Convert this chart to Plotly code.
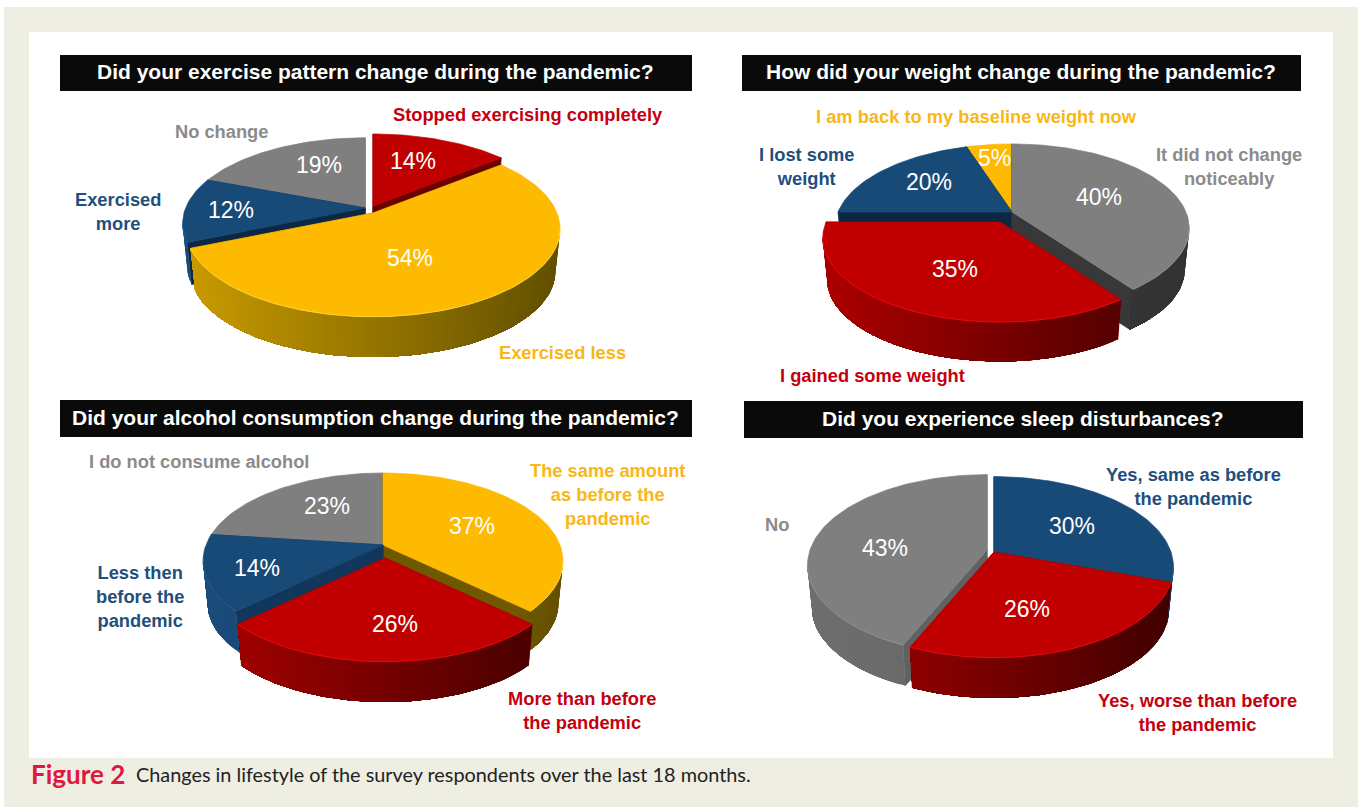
import numpy as np
import plotly.graph_objects as go

# Survey answers, clockwise from twelve o'clock
exercise_labels = ["Stopped exercising completely", "Exercised less", "Exercised more", "No change"]
exercise_values = [14, 54, 12, 19]
weight_labels = ["It did not change noticeably", "I gained some weight", "I lost some weight", "I am back to my baseline weight now"]
weight_values = [40, 35, 20, 5]
alcohol_labels = ["The same amount as before the pandemic", "More than before the pandemic", "Less then before the pandemic", "I do not consume alcohol"]
alcohol_values = [37, 26, 14, 23]
sleep_labels = ["Yes, same as before the pandemic", "Yes, worse than before the pandemic", "No"]
sleep_values = [30, 26, 43]

titles = [
    "Did your exercise pattern change during the pandemic?",
    "How did your weight change during the pandemic?",
    "Did your alcohol consumption change during the pandemic?",
    "Did you experience sleep disturbances?",
]

# Palette: top face, inner cut face, rim gradient left and right, highlight
RED = dict(top="#c00000", cut="#6a0000", left="#a80000", right="#420000", rim="#e80a0a", text="#c40010")
YELLOW = dict(top="#fdba00", cut="#6f5800", left="#c89a00", right="#635000", rim="#ffd52e", text="#f8b716")
BLUE = dict(top="#184a78", cut="#0b2744", left="#1b4c7c", right="#0f2f50", rim="#245a8e", text="#1f4f7d")
GREY = dict(top="#7f7f7f", cut="#3c3c3c", left="#6c6c6c", right="#565656", rim="#8f8f8f", text="#8b8b8b")
DARK_GREY = dict(GREY, left="#3e3e3e", right="#333333", cut="#383838")
SOFT_GREY = dict(GREY, cut="#616161", left="#6e6e6e", right="#5e5e5e")
DEEP_BLUE = dict(BLUE, cut="#12375c")

pies = [
    dict(values=exercise_values, rx=184, ry=85, k=0.18, depth=43,
         styles=[RED, YELLOW, BLUE, GREY], scales=[1, 1, 0.975, 0.975],
         apexes=[(373, 206), (373, 213), (365, 208), (365, 208)],
         label_pos=[(413, 161), (410, 258), (231, 210), (319, 165)]),
    dict(values=weight_values, rx=174, ry=81, k=0.19, depth=42,
         styles=[DARK_GREY, RED, BLUE, YELLOW], scales=[1, 1, 1, 1],
         apexes=[(1012, 212), (1000, 222), (1012, 212), (1012, 212)],
         label_pos=[(1099, 197), (955, 269), (929, 182), (994, 158)]),
    dict(values=alcohol_values, rx=177, ry=85, k=0.18, depth=43,
         styles=[YELLOW, RED, DEEP_BLUE, GREY], scales=[1, 1, 1, 1],
         apexes=[(383, 545), (385, 558), (383, 545), (383, 545)],
         label_pos=[(472, 526), (395, 624), (257, 568), (327, 506)]),
    dict(values=sleep_values, rx=177, ry=88, k=0.167, depth=43,
         styles=[BLUE, RED, SOFT_GREY], scales=[1, 1, 1],
         apexes=[(994, 552), (994, 552), (987, 550)],
         label_pos=[(1072, 526), (1027, 609), (885, 548)]),
]

# Bar rectangles behind the question titles: x0, x1, y0, y1
title_bars = [(60, 692, 55, 91), (742, 1301, 55, 91), (60, 692, 400, 437), (744, 1303, 401, 438)]

# Callouts: text, x, y, colour
callouts = [
    ("Stopped exercising completely", 528, 114, RED),
    ("No change", 221, 131, GREY),
    ("Exercised<br>more", 118, 211, BLUE),
    ("Exercised less", 562, 352, YELLOW),
    ("I am back to my baseline weight now", 976, 116, YELLOW),
    ("I lost some<br>weight", 807, 166, BLUE),
    ("It did not change<br>noticeably", 1229, 166, GREY),
    ("I gained some weight", 872, 375, RED),
    ("I do not consume alcohol", 199, 461, GREY),
    ("The same amount<br>as before the<br>pandemic", 607, 494, YELLOW),
    ("Less then<br>before the<br>pandemic", 140, 596, BLUE),
    ("More than before<br>the pandemic", 582, 710, RED),
    ("Yes, same as before<br>the pandemic", 1193, 486, BLUE),
    ("No", 777, 524, GREY),
    ("Yes, worse than before<br>the pandemic", 1197, 712, RED),
]


def project(theta, rx, ry, k, scale=1.0):
    """Map clockwise-from-top angles onto a tilted disc with mild perspective."""
    u, v = np.sin(theta), -np.cos(theta)
    w = 1.0 / (1.0 - k * v)
    return scale * rx * u * w, scale * ry * v * w


def mix(a, b, t):
    ca = [int(a[i:i + 2], 16) for i in (1, 3, 5)]
    cb = [int(b[i:i + 2], 16) for i in (1, 3, 5)]
    return "rgb({},{},{})".format(*[round(p + (q - p) * t) for p, q in zip(ca, cb)])


def polygon(xs, ys, colour, edge=0.7):
    return go.Scatter(x=list(xs) + [xs[0]], y=list(ys) + [ys[0]], mode="lines",
                      fill="toself", fillcolor=colour,
                      line=dict(color=colour, width=edge),
                      hoverinfo="skip", showlegend=False)


fig = go.Figure()
BOTTOM_SCALE = 0.975

for pie in pies:
    vals = np.array(pie["values"], dtype=float)
    edges = np.concatenate([[0], np.cumsum(vals) / vals.sum() * 2 * np.pi])
    rx, ry, k, depth = pie["rx"], pie["ry"], pie["k"], pie["depth"]
    mids = (edges[:-1] + edges[1:]) / 2
    # The wall gradient runs across the whole pie, left to right
    grad_left = pie["apexes"][0][0] - rx
    grad_span = 2.0 * rx
    # Far slices first so nearer ones overlap them
    for i in np.argsort(-np.cos(mids)):
        a0, a1 = edges[i], edges[i + 1]
        ax, ay = pie["apexes"][i]
        st = pie["styles"][i]
        sc = pie["scales"][i]
        n = max(int((a1 - a0) / np.radians(1.5)), 4)
        th = np.linspace(a0, a1, n + 1)
        tx, ty = project(th, rx, ry, k, sc)
        bx, by = project(th, rx, ry, k, sc * BOTTOM_SCALE)
        tx, ty, bx, by = tx + ax, ty + ay, bx + ax, by + ay + depth
        # Cut faces along both radial edges
        for j in (0, -1):
            fig.add_trace(polygon([ax, tx[j], bx[j], ax], [ay, ty[j], by[j], ay + depth], st["cut"]))
        # Outer wall, only where it turns toward the viewer. Each band covers the
        # rest of the arc and the next one paints over it, which leaves no seams.
        front = [j for j in range(n) if tx[j + 1] < tx[j]]
        if front:
            last = front[-1] + 1
            for j in front:
                t = np.clip((0.5 * (tx[j] + tx[j + 1]) - grad_left) / grad_span, 0, 1)
                colour = mix(st["left"], st["right"], t)
                xs = list(tx[j:last + 1]) + list(bx[j:last + 1][::-1])
                ys = list(ty[j:last + 1]) + list(by[j:last + 1][::-1])
                fig.add_trace(polygon(xs, ys, colour, edge=0))
        # Top face
        fig.add_trace(polygon([ax] + list(tx), [ay] + list(ty), st["top"]))
        # Thin highlight where the top face meets the wall
        if front:
            sel = front + [front[-1] + 1]
            fig.add_trace(go.Scatter(x=tx[sel], y=ty[sel], mode="lines",
                                     line=dict(color=st["rim"], width=1),
                                     hoverinfo="skip", showlegend=False))

shapes = [
    dict(type="rect", x0=4, x1=1358, y0=7, y1=807, fillcolor="#eeeee2", line_width=0, layer="below"),
    dict(type="rect", x0=29, x1=1333, y0=32, y1=758, fillcolor="#ffffff", line_width=0, layer="below"),
]
annotations = []


def note(text, x, y, size, colour, family="Liberation Sans", anchor="center"):
    annotations.append(dict(text=text, x=x, y=y, xref="x", yref="y", showarrow=False,
                            xanchor=anchor, yanchor="middle", align="center",
                            font=dict(family=family, size=size, color=colour)))


for title, (x0, x1, y0, y1) in zip(titles, title_bars):
    shapes.append(dict(type="rect", x0=x0, x1=x1, y0=y0, y1=y1, fillcolor="#0a0a0a", line_width=0, layer="below"))
    note(f"<b>{title}</b>", (x0 + x1) / 2 - 1, (y0 + y1) / 2 - 1.5, 21, "#ffffff")

for pie in pies:
    for v, (x, y) in zip(pie["values"], pie["label_pos"]):
        note(f"{v}%", x, y, 23, "#ffffff")

for text, x, y, st in callouts:
    note(f"<b>{text}</b>", x, y, 18.3, st["text"])

note("<b>Figure 2</b>", 29, 774, 26, "#e0173f", family="Lato", anchor="left")
note("Changes in lifestyle of the survey respondents over the last 18 months.", 134, 774, 19.85,
     "#222222", family="Lato", anchor="left")

fig.update_layout(
    width=1362, height=807, margin=dict(l=0, r=0, t=0, b=0),
    paper_bgcolor="#ffffff", plot_bgcolor="rgba(0,0,0,0)",
    xaxis=dict(range=[0, 1362], visible=False, fixedrange=True),
    yaxis=dict(range=[807, 0], visible=False, fixedrange=True),
    shapes=shapes, annotations=annotations, showlegend=False,
)
fig.write_html("out.html", config=dict(displayModeBar=False))
